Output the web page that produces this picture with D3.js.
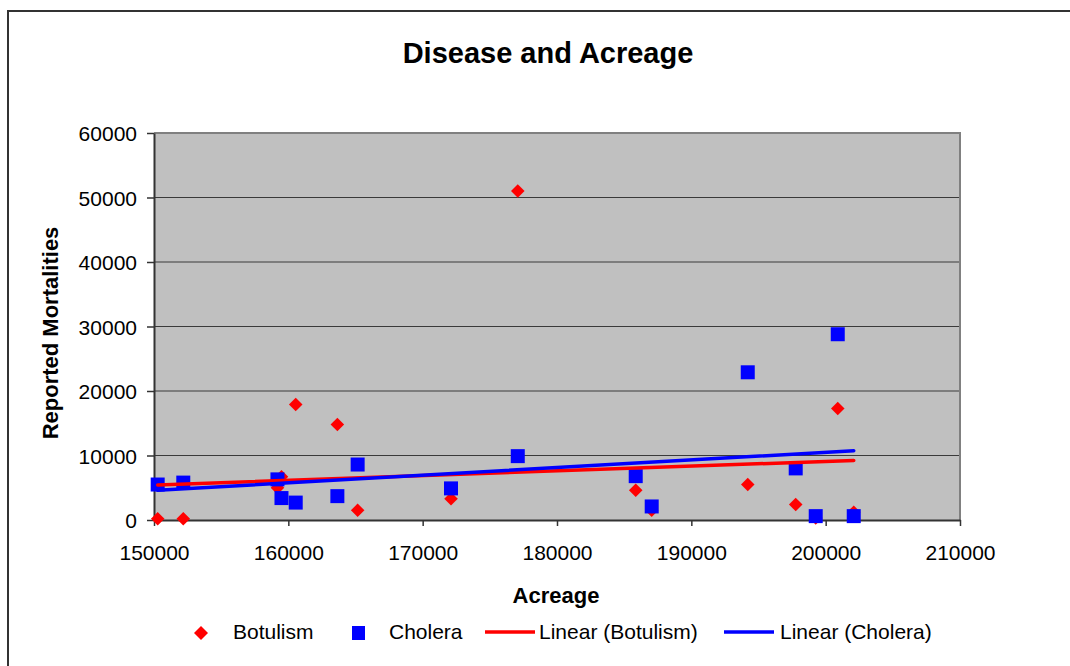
<!DOCTYPE html>
<html>
<head>
<meta charset="utf-8">
<script src="https://cdn.jsdelivr.net/npm/d3@7"></script>
<style>
  body { margin: 0; background: #fff; }
  svg { display: block; font-family: "Liberation Sans", Arial, sans-serif; }
</style>
</head>
<body>
<svg width="1070" height="666"></svg>
<script>
// data
const acreage = [150275, 152180, 159190, 159490, 160550, 163650, 165160, 172110,
    177080, 185860, 187050, 194200, 197770, 199260, 200900, 202090];
const botulism = [200, 200, 5000, 6700, 17900, 14800, 1500, 3300,
    51000, 4600, 1500, 5500, 2400, 300, 17300, 1200];
const cholera = [5500, 5800, 6300, 3400, 2700, 3700, 8600, 4900,
    9900, 6800, 2100, 22900, 8000, 600, 28800, 600];
// trendlines (at first and last acreage)
const trendX = [150275, 202090];
const trendBotulism = [5430, 9240];
const trendCholera = [4600, 10750];
const xTicks = [150000, 160000, 170000, 180000, 190000, 200000, 210000];
const yTicks = [0, 10000, 20000, 30000, 40000, 50000, 60000];

const svg = d3.select("svg");

// outer chart border
svg.append("rect")
    .attr("x", 8).attr("y", 11)
    .attr("width", 1080).attr("height", 700)
    .style("fill", "none").style("stroke", "#333").style("stroke-width", 2);

const x = d3.scaleLinear().domain([150000, 210000]).range([154, 960]);
const y = d3.scaleLinear().domain([0, 60000]).range([520, 133]);

// plot area
svg.append("rect")
    .attr("x", x(150000)).attr("y", y(60000))
    .attr("width", x(210000) - x(150000)).attr("height", y(0) - y(60000))
    .style("fill", "#c0c0c0");

// gridlines
svg.append("g").selectAll("line")
    .data(yTicks.filter(d => d > 0 && d < 60000))
    .enter().append("line")
    .attr("x1", x(150000)).attr("x2", x(210000))
    .attr("y1", d => y(d)).attr("y2", d => y(d))
    .style("stroke", "#3a3a3a").style("stroke-width", 1.2);

// top and right border of plot area
svg.append("path")
    .attr("d", `M${x(150000)},${y(60000)}H${x(210000)}V${y(0)}`)
    .style("fill", "none").style("stroke", "#808080").style("stroke-width", 2);

// axes
const xAxis = svg.append("g")
    .attr("transform", `translate(0,${y(0)})`)
    .call(d3.axisBottom(x).tickValues(xTicks).tickSizeInner(6).tickSizeOuter(0).tickPadding(19).tickFormat(d3.format("d")));
const yAxis = svg.append("g")
    .attr("transform", `translate(${x(150000)},0)`)
    .call(d3.axisLeft(y).tickValues(yTicks).tickSizeInner(7).tickSizeOuter(0).tickPadding(10).tickFormat(d3.format("d")));
[xAxis, yAxis].forEach(a => {
    a.select(".domain").style("stroke", "#333").style("stroke-width", 2);
    a.selectAll(".tick line").style("stroke", "#333").style("stroke-width", 1.5);
    a.selectAll("text").style("font-size", "21px").style("fill", "#000")
        .style("font-family", "'Liberation Sans', Arial, sans-serif");
});
yAxis.selectAll("text").attr("dy", "0.36em");

// markers
const diamond = d3.symbol(d3.symbolSquare, 92);
const square = d3.symbol(d3.symbolSquare, 196);

svg.append("g").selectAll("path")
    .data(acreage.map((a, i) => [a, botulism[i]]))
    .enter().append("path")
    .attr("d", diamond)
    .attr("transform", d => `translate(${x(d[0])},${y(d[1])}) rotate(45)`)
    .style("fill", "#ff0000");

svg.append("g").selectAll("path")
    .data(acreage.map((a, i) => [a, cholera[i]]))
    .enter().append("path")
    .attr("d", square)
    .attr("transform", d => `translate(${x(d[0])},${y(d[1])})`)
    .style("fill", "#0000ff");

// trendlines
const line = d3.line().x(d => x(d[0])).y(d => y(d[1]));
svg.append("path")
    .datum(trendX.map((a, i) => [a, trendBotulism[i]]))
    .attr("d", line)
    .style("fill", "none").style("stroke", "#ff0000").style("stroke-width", 3.5).style("stroke-linecap", "round");
svg.append("path")
    .datum(trendX.map((a, i) => [a, trendCholera[i]]))
    .attr("d", line)
    .style("fill", "none").style("stroke", "#0000ff").style("stroke-width", 3.5).style("stroke-linecap", "round");

// titles
svg.append("text")
    .attr("x", 548).attr("y", 63)
    .attr("text-anchor", "middle")
    .style("font-size", "29px").style("font-weight", "bold")
    .text("Disease and Acreage");
svg.append("text")
    .attr("x", 556).attr("y", 603)
    .attr("text-anchor", "middle")
    .style("font-size", "22px").style("font-weight", "bold")
    .text("Acreage");
svg.append("text")
    .attr("transform", "translate(58,333) rotate(-90)")
    .attr("text-anchor", "middle")
    .style("font-size", "22px").style("font-weight", "bold")
    .text("Reported Mortalities");

// legend
const legend = svg.append("g").attr("class", "legend");
legend.append("path").attr("d", d3.symbol(d3.symbolSquare, 98))
    .attr("transform", "translate(201,633) rotate(45)").style("fill", "#ff0000");
legend.append("rect").attr("x", 352).attr("y", 626).attr("width", 13).attr("height", 14)
    .style("fill", "#0000ff");
legend.append("line").attr("x1", 485).attr("x2", 535).attr("y1", 632).attr("y2", 632)
    .style("stroke", "#ff0000").style("stroke-width", 3.5);
legend.append("line").attr("x1", 724).attr("x2", 774).attr("y1", 632).attr("y2", 632)
    .style("stroke", "#0000ff").style("stroke-width", 3.5);
const legendText = [["Botulism", 233], ["Cholera", 389], ["Linear (Botulism)", 539], ["Linear (Cholera)", 780]];
legend.selectAll("text").data(legendText)
    .enter().append("text")
    .attr("x", d => d[1]).attr("y", 639)
    .style("font-size", "21px")
    .text(d => d[0]);
</script>
</body>
</html>
